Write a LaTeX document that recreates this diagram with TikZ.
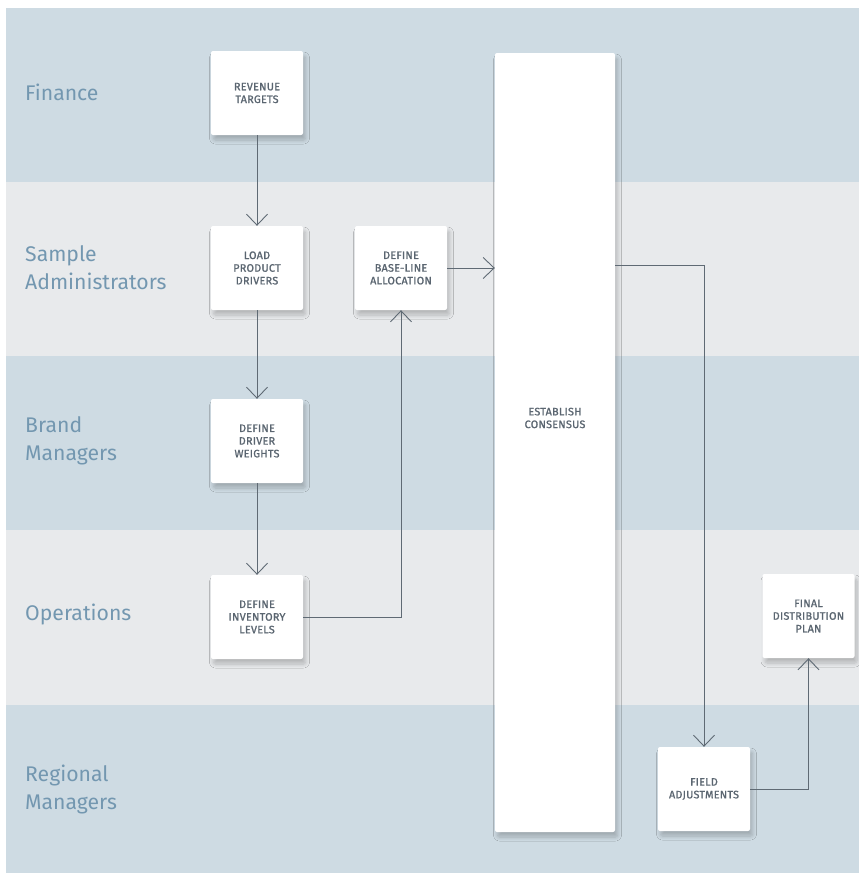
\documentclass[tikz,border=0pt]{standalone}
\usepackage{fontspec}
\setmainfont{Fira Sans}
\newfontfamily\boxfont{Fira Sans}[LetterSpace=2.5, FakeBold=1.3]
\usetikzlibrary{arrows.meta,shadows.blur,calc}
\definecolor{bandblue}{HTML}{CEDBE3}
\definecolor{bandgray}{HTML}{E8EAEC}
\definecolor{lanetext}{HTML}{7397B0}
\definecolor{boxtext}{HTML}{5A6570}
\definecolor{linecol}{HTML}{5F6A74}
\tikzset{
  lane/.style={anchor=west, align=left, text=lanetext, inner sep=0pt,
    font=\fontsize{21.2}{28}\selectfont},
  boxlabel/.style={font=\boxfont\fontsize{10.8}{12.7}\selectfont, text=boxtext, align=center},
  box/.style={fill=white, rounded corners=2pt, minimum width=92pt, minimum height=84pt,
    inner sep=0pt, boxlabel,
    blur shadow={shadow xshift=2.5pt, shadow yshift=-5pt, shadow blur radius=4pt, shadow blur steps=8, shadow opacity=22}},
  arr/.style={draw=linecol, line width=0.9pt, -{Straight Barb[length=11pt,width=21pt,line width=0.9pt]}}
}
\begin{document}
\begin{tikzpicture}[x=1pt,y=-1pt]
\useasboundingbox (0,0) rectangle (859,873);
\fill[bandblue] (6,8) rectangle (859,182);
\fill[bandgray] (6,182) rectangle (859,356);
\fill[bandblue] (6,356) rectangle (859,530);
\fill[bandgray] (6,530) rectangle (859,705);
\fill[bandblue] (6,705) rectangle (859,873);

\node[lane] (lfin) at (25,92) {Finance};
\node[lane] (ladm) at (25,268) {Sample\\Administrators};
\node[lane] (lbrand) at (25,441) {Brand\\Managers};
\node[lane] (lops) at (25,614) {Operations};
\node[lane] (lreg) at (25,789) {Regional\\Managers};

\node[box] (rev) at (257,93) {REVENUE\\TARGETS};
\node[box] (load) at (257,268) {LOAD\\PRODUCT\\DRIVERS};
\node[box] (base) at (401,268) {DEFINE\\BASE-LINE\\ALLOCATION};
\node[box] (drv) at (257,441) {DEFINE\\DRIVER\\WEIGHTS};
\node[box] (inv) at (257,617) {DEFINE\\INVENTORY\\LEVELS};
\node[box, minimum width=120pt, minimum height=779pt,
  label={[boxlabel, yshift=24.5pt]center:ESTABLISH\\CONSENSUS}] (cons) at (555,442.5) {};
\node[box] (field) at (704,789) {FIELD\\ADJUSTMENTS};
\node[box] (final) at (808.5,616) {FINAL\\DISTRIBUTION\\PLAN};

\draw[arr] (rev) -- (load);
\draw[arr] (load) -- (drv);
\draw[arr] (drv) -- (inv);
\draw[arr] (inv.east) -| (base.south);
\draw[arr] (base.east) -- (base.east -| cons.west);
\coordinate (consout) at ($(cons.north east)+(0,212.5)$);
\draw[arr] (consout) -| (field.north);
\draw[arr] (field.east) -| (final.south);
\end{tikzpicture}
\end{document}
